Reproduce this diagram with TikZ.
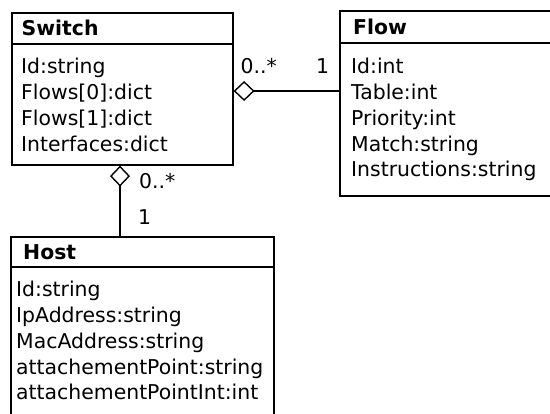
\documentclass[tikz,border=0pt]{standalone}
\usepackage{fontspec}
\setmainfont{DejaVu Sans}
\usetikzlibrary{arrows.meta}
\begin{document}
\begin{tikzpicture}[x=1pt,y=-1pt,
  classbox/.style={draw, line width=1.6pt, inner sep=0pt, anchor=north west},
  headrule/.style={line width=1.6pt},
  classtitle/.style={font=\fontsize{20.4}{24}\selectfont\bfseries, inner sep=0pt, anchor=base west},
  attr/.style={font=\fontsize{20.4}{24}\selectfont, inner sep=0pt, anchor=base west},
  mult/.style={font=\fontsize{20.4}{24}\selectfont, inner sep=0pt, anchor=base west},
  agg/.style={line width=1.4pt, {Diamond[open,length=21pt,width=20pt]}-}]
\useasboundingbox (0,0) rectangle (550,414);
\clip (0,0) rectangle (550,414);

% class boxes
\node[classbox, minimum width=221pt, minimum height=152pt] (switch) at (11,12) {};
\node[classbox, minimum width=222pt, minimum height=185pt] (flow) at (339,10) {};
\node[classbox, minimum width=263pt, minimum height=190pt] (host) at (10,236) {};

% header separators
\draw[headrule] ([yshift=-32pt]switch.north west) -- ([yshift=-32pt]switch.north east);
\draw[headrule] ([yshift=-33pt]flow.north west) -- ([yshift=-33pt]flow.north east);
\draw[headrule] ([yshift=-31pt]host.north west) -- ([yshift=-31pt]host.north east);

% titles
\node[classtitle] (switchname) at (21.5,36) {Switch};
\node[classtitle] (flowname) at (353,35) {Flow};
\node[classtitle] (hostname) at (23,260) {Host};

% attributes
\foreach \t [count=\i] in {{Id:string}, {Flows[0]:dict}, {Flows[1]:dict}, {Interfaces:dict}}
  \node[attr] (sw-a\i) at (21, {74+(\i-1)*25.75}) {\t};
\foreach \t [count=\i] in {{Id:int}, {Table:int}, {Priority:int}, {Match:string}, {Instructions:string}}
  \node[attr] (fl-a\i) at (351, {74+(\i-1)*25.75}) {\t};
\foreach \t [count=\i] in {{Id:string}, {IpAddress:string}, {MacAddress:string}, {attachementPoint:string}, {attachementPointInt:int}}
  \node[attr] (ho-a\i) at (16, {297+(\i-1)*25.75}) {\t};

% aggregation connectors
\coordinate (hrow) at (0,91);
\coordinate (vcol) at (120,0);
\draw[agg] (switch.east |- hrow) -- (flow.west |- hrow);
\draw[agg] (switch.south -| vcol) -- (host.north -| vcol);

% multiplicities
\node[mult] (m1) at (240.5,74) {0..*};
\node[mult] (m2) at (316,74) {1};
\node[mult] (m3) at (139,189) {0..*};
\node[mult] (m4) at (138,225) {1};
\end{tikzpicture}
\end{document}
